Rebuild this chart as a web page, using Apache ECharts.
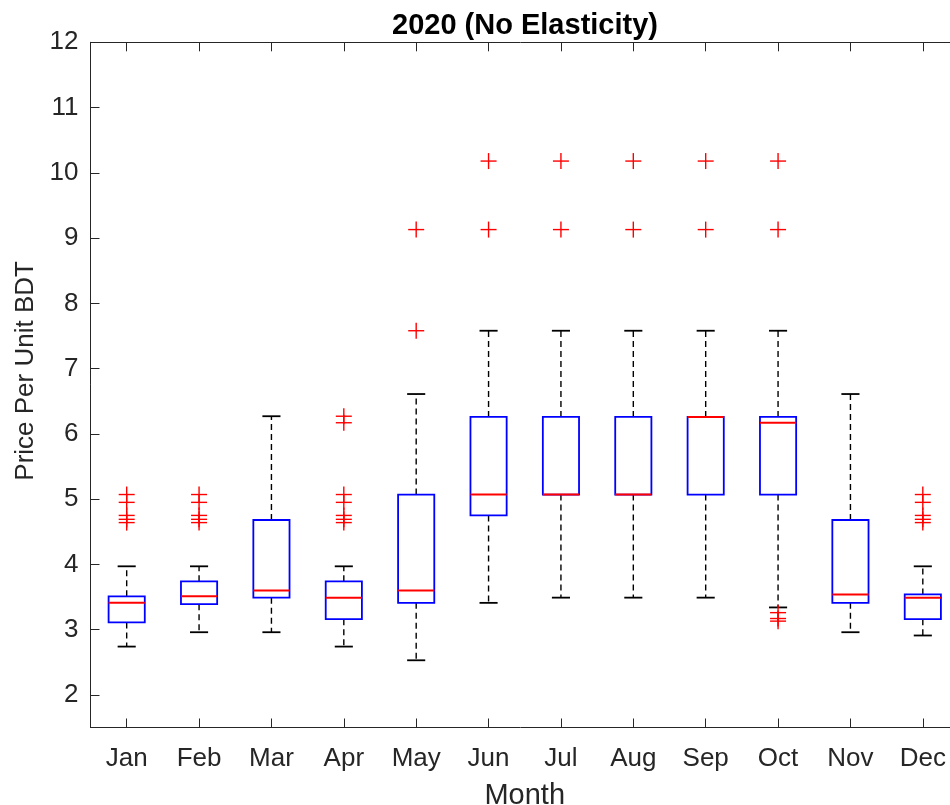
<!DOCTYPE html>
<html>
<head>
<meta charset="utf-8">
<script src="https://cdn.jsdelivr.net/npm/echarts@6/dist/echarts.min.js"></script>
<style>
html,body{margin:0;padding:0;background:#fff;overflow:hidden;}
#chart{width:950px;height:805px;}
</style>
</head>
<body>
<div id="chart"></div>
<script>
// ---- data ----
const months = ['Jan','Feb','Mar','Apr','May','Jun','Jul','Aug','Sep','Oct','Nov','Dec'];
const whiskerLow  = [2.74, 2.96, 2.96, 2.74, 2.53, 3.41, 3.49, 3.49, 3.49, 3.34, 2.96, 2.91];
const quart1      = [3.11, 3.39, 3.49, 3.16, 3.41, 4.75, 5.07, 5.07, 5.07, 5.07, 3.41, 3.16];
const medians     = [3.41, 3.51, 3.60, 3.49, 3.60, 5.07, 5.07, 5.07, 6.26, 6.17, 3.54, 3.49];
const quart3      = [3.51, 3.74, 4.68, 3.74, 5.07, 6.26, 6.26, 6.26, 6.26, 6.26, 4.68, 3.54];
const whiskerHigh = [3.97, 3.97, 6.27, 3.97, 6.61, 7.58, 7.58, 7.58, 7.58, 7.58, 6.61, 3.97];
const outliers = [
  [5.07, 4.95, 4.75, 4.69, 4.64],
  [5.07, 4.95, 4.75, 4.69, 4.64],
  [],
  [6.27, 6.17, 5.07, 4.95, 4.75, 4.69, 4.64],
  [7.58, 9.13],
  [9.13, 10.18],
  [9.13, 10.18],
  [9.13, 10.18],
  [9.13, 10.18],
  [10.18, 9.13, 3.26, 3.17, 3.13],
  [],
  [5.07, 4.95, 4.75, 4.69, 4.64]
];
const yTicks = [2, 3, 4, 5, 6, 7, 8, 9, 10, 11, 12];
const titleText = '2020 (No Elasticity)';
const xName = 'Month';
const yName = 'Price Per Unit BDT';

// ---- build series data ----
const boxData = months.map((m, i) => [i, whiskerLow[i], quart1[i], medians[i], quart3[i], whiskerHigh[i]]);
const outlierData = [];
outliers.forEach((arr, i) => arr.forEach(v => outlierData.push([i, v])));

const axisColor = '#262626';
const font = '"Liberation Sans", Arial, Helvetica, sans-serif';

function renderBox(params, api) {
  const i = api.value(0);
  const lo = api.coord([i, api.value(1)]);
  const q1 = api.coord([i, api.value(2)]);
  const md = api.coord([i, api.value(3)]);
  const q3 = api.coord([i, api.value(4)]);
  const hi = api.coord([i, api.value(5)]);
  const band = api.size([1, 0])[0];
  const bw = band * 0.5, cw = bw * 0.5;
  const x = q1[0];
  const dash = {stroke: '#000', lineWidth: 1.4, lineDash: [6, 4]};
  const cap = {stroke: '#000', lineWidth: 1.8};
  return {
    type: 'group',
    children: [
      {type: 'line', shape: {x1: x, y1: q3[1], x2: x, y2: hi[1]}, style: dash},
      {type: 'line', shape: {x1: x, y1: q1[1], x2: x, y2: lo[1]}, style: dash},
      {type: 'line', shape: {x1: x - cw / 2, y1: hi[1], x2: x + cw / 2, y2: hi[1]}, style: cap},
      {type: 'line', shape: {x1: x - cw / 2, y1: lo[1], x2: x + cw / 2, y2: lo[1]}, style: cap},
      {type: 'rect', shape: {x: x - bw / 2, y: q3[1], width: bw, height: q1[1] - q3[1]},
        style: {fill: null, stroke: '#0000FF', lineWidth: 1.8}},
      {type: 'line', shape: {x1: x - bw / 2, y1: md[1], x2: x + bw / 2, y2: md[1]},
        style: {stroke: '#FF0000', lineWidth: 2}}
    ]
  };
}

function renderCross(params, api) {
  const p = api.coord([api.value(0), api.value(1)]);
  const h = 8;
  const st = {stroke: '#FF0000', lineWidth: 1.4};
  return {
    type: 'group',
    children: [
      {type: 'line', shape: {x1: p[0] - h, y1: p[1], x2: p[0] + h, y2: p[1]}, style: st},
      {type: 'line', shape: {x1: p[0], y1: p[1] - h, x2: p[0], y2: p[1] + h}, style: st}
    ]
  };
}

const chart = echarts.init(document.getElementById('chart'), null, {renderer: 'canvas'});
const tickStyle = {show: true, inside: true, length: 9, alignWithLabel: true, lineStyle: {color: axisColor, width: 1}};
const yTickStyle = {show: true, inside: true, length: 9, customValues: yTicks, lineStyle: {color: axisColor, width: 1}};

chart.setOption({
  backgroundColor: '#fff',
  animation: false,
  title: {
    text: titleText,
    left: 525,
    top: 11,
    padding: 0,
    textAlign: 'center',
    textStyle: {fontFamily: font, fontSize: 29, fontWeight: 'bold', color: '#000'}
  },
  grid: {left: 90.5, right: -9, top: 42.3, bottom: 77.5, containLabel: false, outerBoundsMode: 'none'},
  xAxis: [
    {
      type: 'category', data: months, position: 'bottom', boundaryGap: true,
      axisLine: {show: true, lineStyle: {color: axisColor, width: 1}},
      axisTick: tickStyle,
      axisLabel: {color: axisColor, fontFamily: font, fontSize: 26, margin: 18},
      splitLine: {show: false},
      name: xName, nameLocation: 'middle', nameGap: 54,
      nameTextStyle: {color: axisColor, fontFamily: font, fontSize: 29}
    },
    {
      type: 'category', data: months, position: 'top', boundaryGap: true,
      axisLine: {show: true, lineStyle: {color: axisColor, width: 1}},
      axisTick: tickStyle,
      axisLabel: {show: false},
      splitLine: {show: false}
    }
  ],
  yAxis: [
    {
      type: 'value', min: 1.5, max: 12, position: 'left',
      axisLine: {show: true, lineStyle: {color: axisColor, width: 1}},
      axisTick: yTickStyle,
      axisLabel: {color: axisColor, fontFamily: font, fontSize: 26, margin: 12, customValues: yTicks},
      splitLine: {show: false},
      name: yName, nameLocation: 'middle', nameGap: 50,
      nameTextStyle: {color: axisColor, fontFamily: font, fontSize: 26, padding: [0, 0, 0, 28]}
    },
    {
      type: 'value', min: 1.5, max: 12, position: 'right',
      axisLine: {show: true, lineStyle: {color: axisColor, width: 1}},
      axisTick: yTickStyle,
      axisLabel: {show: false, customValues: yTicks},
      splitLine: {show: false}
    }
  ],
  series: [
    {
      type: 'custom', name: 'box', xAxisIndex: 0, yAxisIndex: 0,
      data: boxData, encode: {x: 0, y: [1, 2, 3, 4, 5]},
      renderItem: renderBox, clip: false
    },
    {
      type: 'custom', name: 'outliers', xAxisIndex: 0, yAxisIndex: 0,
      data: outlierData, encode: {x: 0, y: 1},
      renderItem: renderCross, clip: false
    }
  ]
});
</script>
</body>
</html>
